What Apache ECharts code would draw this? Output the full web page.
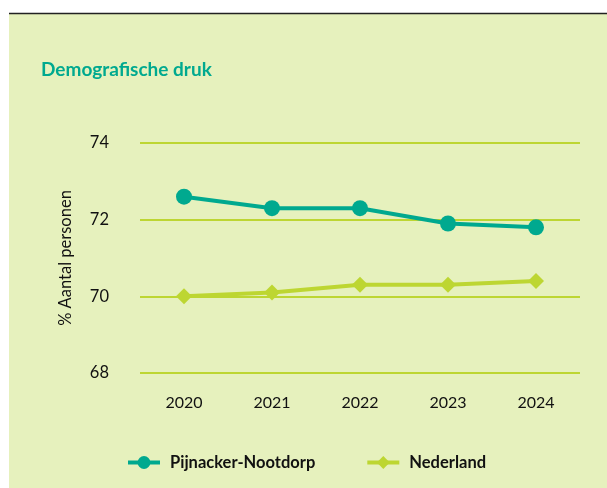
<!DOCTYPE html>
<html>
<head>
<meta charset="utf-8">
<script src="https://cdn.jsdelivr.net/npm/echarts@6/dist/echarts.min.js"></script>
<style>
  html, body { margin: 0; padding: 0; background: #fff; }
  #chart { width: 607px; height: 488px; }
</style>
</head>
<body>
<div id="chart"></div>
<script>
// data
const years = ['2020', '2021', '2022', '2023', '2024'];
const pijnacker = [72.6, 72.3, 72.3, 71.9, 71.8];
const nederland = [70.0, 70.1, 70.3, 70.3, 70.4];

const teal = '#00A98F';
const lime = '#BDD632';
const font = 'Lato';

const chart = echarts.init(document.getElementById('chart'));

chart.setOption({
  animation: false,
  backgroundColor: '#fff',
  textStyle: { fontFamily: font },
  graphic: [
    { type: 'rect', z: -10, shape: { x: 9, y: 14, width: 600, height: 480 }, style: { fill: '#E6F1BD' } },
    { type: 'line', shape: { x1: 9, y1: 13.5, x2: 607, y2: 13.5 }, style: { stroke: '#222', lineWidth: 1.5 } }
  ],
  title: {
    text: 'Demografische druk',
    left: 36,
    top: 55,
    textStyle: { color: teal, fontSize: 19, fontWeight: 'bold', fontFamily: font }
  },
  legend: {
    top: 449,
    left: 121,
    itemGap: 50,
    itemWidth: 32,
    itemHeight: 16,
    lineStyle: { width: 4 },
    textStyle: { color: '#111', fontSize: 16.5, fontWeight: 'bold', fontFamily: font, padding: [0, 0, 0, 5] },
    data: ['Pijnacker-Nootdorp', 'Nederland']
  },
  grid: { left: 140, right: 27, top: 143, bottom: 115 },
  xAxis: {
    type: 'category',
    data: years,
    axisLine: { show: false },
    axisTick: { show: false },
    axisLabel: { color: '#111', fontSize: 16, margin: 22 }
  },
  yAxis: {
    type: 'value',
    min: 68,
    max: 74,
    interval: 2,
    name: '% Aantal personen',
    nameLocation: 'middle',
    nameGap: 66,
    nameRotate: 90,
    nameTextStyle: { color: '#111', fontSize: 16.5 },
    axisLabel: { color: '#111', fontSize: 16.5, margin: 31 },
    splitLine: { lineStyle: { color: lime, width: 2 } }
  },
  series: [
    {
      name: 'Pijnacker-Nootdorp',
      type: 'line',
      data: pijnacker,
      symbol: 'circle',
      symbolSize: 16,
      itemStyle: { color: teal },
      lineStyle: { color: teal, width: 4 }
    },
    {
      name: 'Nederland',
      type: 'line',
      data: nederland,
      symbol: 'diamond',
      symbolSize: 16,
      itemStyle: { color: lime },
      lineStyle: { color: lime, width: 4 }
    }
  ]
});
</script>
</body>
</html>
